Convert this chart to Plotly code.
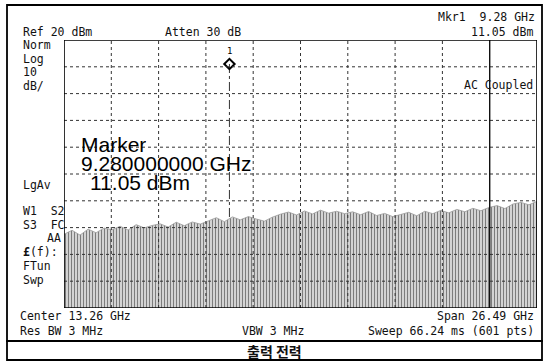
import numpy as np
import plotly.graph_objects as go

# ---- instrument settings ----
ref_level = 20.0        # dBm (top of screen)
db_per_div = 10.0
n_div = 10
center_ghz = 13.26
span_ghz = 26.49
atten_db = 30
rbw_mhz = 3
vbw_mhz = 3
sweep_ms = 66.24
n_pts = 601

marker_freq = 9.28      # GHz
marker_level = 11.05    # dBm

# ---- noise envelope (dBm), evenly spaced across the span ----
envelope_level = [
    -52.5, -51.0, -52.8, -50.6, -51.9, -50.2,
    -50.8, -49.5, -50.9, -48.9, -50.1, -49.2,
    -48.6, -49.8, -48.0, -49.3, -47.9, -48.7,
    -47.5, -46.3, -47.8, -46.0, -47.1, -45.9,
    -46.8, -47.6, -46.1, -45.0, -44.2, -45.3,
    -43.8, -44.9, -43.5, -44.6, -43.9, -44.8,
    -44.1, -45.2, -44.0, -45.5, -44.7, -45.9,
    -45.1, -44.3, -45.6, -43.9, -44.8, -43.6,
    -44.5, -43.2, -44.1, -42.8, -43.7, -42.5,
    -41.8, -42.9, -41.2, -40.6, -41.5, -40.2,
]

left_labels = ["Norm", "Log", "10", "dB/"]
status_labels = ["W1  S2", "S3  FC", "AA", "(f):", "FTun", "Swp"]
caption = "출력 전력"

start_ghz = center_ghz - span_ghz / 2
stop_ghz = center_ghz + span_ghz / 2
bottom_level = ref_level - n_div * db_per_div
env_freq = np.linspace(start_ghz, stop_ghz, len(envelope_level))

# pixel geometry of the plot area
W, H = 547, 362
L, R, T, B = 64, 537, 40, 308


def px(X):
    return (X - L) / (R - L)


def py(Y):
    return (B - Y) / (B - T)


MONO = "DejaVu Sans Mono"
SANS = "Liberation Sans"

fig = go.Figure()

# baseline at the bottom of the screen
fig.add_trace(go.Scatter(x=[start_ghz, stop_ghz], y=[bottom_level, bottom_level],
                         mode="lines", line=dict(width=0, color="rgba(0,0,0,0)"),
                         hoverinfo="skip", showlegend=False))
# noise trace (filled to the bottom)
fig.add_trace(go.Scatter(x=env_freq, y=envelope_level, mode="lines",
                         line=dict(width=0.8, color="#9a9a9a"),
                         fill="tonexty", fillcolor="#c0c0c0",
                         fillpattern=dict(shape="|", size=3, solidity=0.35,
                                          fgcolor="#7c7c7c", bgcolor="#d3d3d3",
                                          fillmode="replace"),
                         showlegend=False))
# signal spike at the marker
spike_floor = float(np.interp(marker_freq, env_freq, envelope_level))
fig.add_trace(go.Scatter(x=[marker_freq, marker_freq], y=[marker_level, spike_floor],
                         mode="lines", line=dict(width=1, color="#333333", dash="dashdot"),
                         showlegend=False))
# marker diamond
fig.add_trace(go.Scatter(x=[marker_freq], y=[marker_level], mode="markers",
                         marker=dict(symbol="diamond-open", size=8,
                                     line=dict(width=2, color="black"), color="black"),
                         showlegend=False))

# grid as shapes above the trace
shapes = []
for i in range(1, n_div):
    f = start_ghz + i * span_ghz / n_div
    solid = (i == 9)
    shapes.append(dict(type="line", xref="x", yref="y", x0=f, x1=f,
                       y0=bottom_level, y1=ref_level, layer="above",
                       line=dict(color="#111111" if solid else "#333333",
                                 width=1.4 if solid else 1,
                                 dash="solid" if solid else "dot")))
    lv = ref_level - i * db_per_div
    shapes.append(dict(type="line", xref="x", yref="y", x0=start_ghz, x1=stop_ghz,
                       y0=lv, y1=lv, layer="above",
                       line=dict(color="#333333", width=1, dash="dot")))
# plot border
shapes.append(dict(type="rect", xref="x", yref="y", x0=start_ghz, x1=stop_ghz,
                   y0=bottom_level, y1=ref_level, layer="above",
                   line=dict(color="black", width=1.6)))
# outer screen frame and caption box
shapes.append(dict(type="rect", xref="paper", yref="paper",
                   x0=px(7), x1=px(542), y0=py(341), y1=py(5),
                   line=dict(color="black", width=1.8)))
shapes.append(dict(type="rect", xref="paper", yref="paper",
                   x0=px(7), x1=px(542), y0=py(360), y1=py(341),
                   line=dict(color="black", width=1.8)))

ann = []


def txt(X, Y, s, size=11.5, anchor="left", font=MONO, color="#111111", height=None):
    a = dict(x=px(X), y=py(Y), xref="paper", yref="paper", text=s,
             showarrow=False, xanchor=anchor, yanchor="middle",
             font=dict(family=font, size=size, color=color))
    if height is not None:
        a["height"] = height
        a["borderpad"] = 0
    ann.append(a)


txt(21, 31.5, f"Ref {ref_level:.0f} dBm")
txt(163, 31.5, f"Atten {atten_db} dB")
txt(537, 17, f"Mkr1  {marker_freq:.2f} GHz", anchor="right")
txt(535, 31.5, f"{marker_level:.2f} dBm", anchor="right")
for k, s in enumerate(left_labels):
    txt(21, 45 + k * 13.5, s)
txt(535, 85, "AC Coupled", anchor="right")
txt(21, 185, "LgAv")
txt(21, 211, status_labels[0])
txt(21, 225, status_labels[1])
txt(63, 238, status_labels[2], anchor="right")
txt(21, 252, "<b>£</b>" + status_labels[3])
txt(21, 266, status_labels[4])
txt(21, 280, status_labels[5])

txt(80, 144, "Marker", size=21, font=SANS, color="black", height=19)
txt(80, 163, f"{marker_freq:.9f} GHz", size=21, font=SANS, color="black", height=19)
txt(89, 183, f"{marker_level:.2f} dBm", size=21, font=SANS, color="black", height=19)

txt(18, 316, f"Center {center_ghz:.2f} GHz")
txt(536, 316, f"Span {span_ghz:.2f} GHz", anchor="right")
txt(18, 331, f"Res BW {rbw_mhz} MHz")
txt(240, 331, f"VBW {vbw_mhz} MHz")
txt(536, 331, f"Sweep {sweep_ms:.2f} ms ({n_pts} pts)", anchor="right")

txt(274, 351, f"<b>{caption}</b>", size=14, anchor="center", font="Noto Sans CJK KR")

ann.append(dict(x=marker_freq, y=marker_level, xref="x", yref="y", text="1",
                showarrow=False, yshift=13, font=dict(family=MONO, size=9, color="black")))

fig.update_layout(
    width=W, height=H,
    margin=dict(l=L, r=W - R, t=T, b=H - B),
    paper_bgcolor="white", plot_bgcolor="white",
    xaxis=dict(range=[start_ghz, stop_ghz], showgrid=False, zeroline=False,
               showticklabels=False, ticks=""),
    yaxis=dict(range=[bottom_level, ref_level], showgrid=False, zeroline=False,
               showticklabels=False, ticks=""),
    shapes=shapes, annotations=ann, showlegend=False,
)

fig.write_html("out.html", config={"displayModeBar": False},
               post_script="document.body.style.margin='0';document.body.style.overflow='hidden';")
